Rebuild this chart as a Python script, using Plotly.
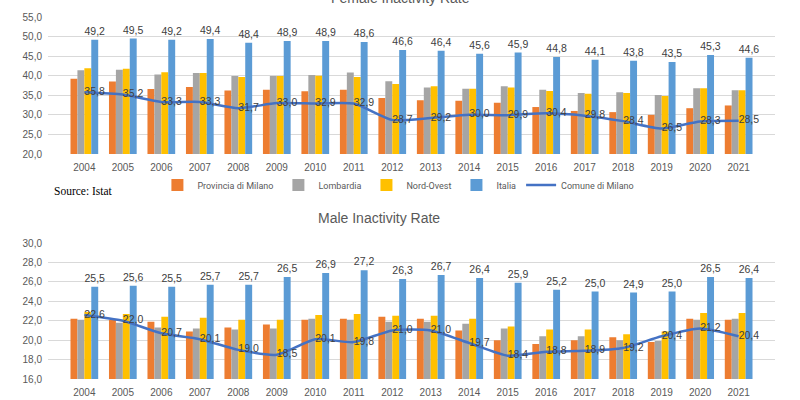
import plotly.graph_objects as go

years = [str(y) for y in range(2004, 2022)]

# Female inactivity rate
f_provincia = [39.2, 38.5, 36.6, 37.1, 36.2, 36.4, 36.0, 36.4, 34.3, 33.7, 33.6, 33.1, 32.0, 31.0, 30.7, 30.0, 31.7, 32.4]
f_lombardia = [41.4, 41.5, 40.3, 40.7, 39.9, 39.9, 40.2, 40.8, 38.6, 37.0, 36.7, 37.3, 36.4, 35.6, 35.8, 35.1, 36.8, 36.3]
f_nordovest = [41.9, 41.8, 40.9, 40.7, 39.7, 39.9, 40.0, 39.7, 37.9, 37.3, 36.7, 37.0, 36.1, 35.4, 35.6, 34.8, 36.8, 36.3]
f_italia = [49.2, 49.5, 49.2, 49.4, 48.4, 48.9, 48.9, 48.6, 46.6, 46.4, 45.6, 45.9, 44.8, 44.1, 43.8, 43.5, 45.3, 44.6]
f_comune = [35.8, 35.2, 33.3, 33.3, 31.7, 33.0, 32.9, 32.9, 28.7, 29.2, 30.0, 29.9, 30.4, 29.8, 28.4, 26.5, 28.3, 28.5]

# Male inactivity rate
m_provincia = [22.2, 22.1, 21.9, 20.9, 21.3, 21.6, 22.1, 22.2, 22.4, 22.2, 21.0, 20.0, 19.6, 20.0, 20.3, 19.8, 22.2, 22.1]
m_lombardia = [22.1, 21.8, 21.3, 21.2, 21.1, 21.2, 22.2, 22.1, 21.9, 21.9, 21.7, 21.2, 20.4, 20.4, 20.0, 19.9, 22.1, 22.2]
m_nordovest = [22.9, 22.7, 22.4, 22.3, 22.1, 22.1, 22.6, 22.7, 22.5, 22.5, 22.2, 21.4, 21.1, 21.1, 20.6, 20.9, 22.8, 22.8]
m_italia = [25.5, 25.6, 25.5, 25.7, 25.7, 26.5, 26.9, 27.2, 26.3, 26.7, 26.4, 25.9, 25.2, 25.0, 24.9, 25.0, 26.5, 26.4]
m_comune = [22.6, 22.0, 20.7, 20.1, 19.0, 18.5, 20.1, 19.8, 21.0, 21.0, 19.7, 18.4, 18.8, 18.9, 19.2, 20.4, 21.2, 20.4]

series_names = ["Provincia di Milano", "Lombardia", "Nord-Ovest", "Italia"]
colors = ["#ED7D31", "#A5A5A5", "#FFC000", "#5B9BD5"]
line_color = "#4472C4"
text_color = "#404040"
tick_font = dict(family="Liberation Sans, Arial, sans-serif", size=10, color="#595959")
label_font = dict(family="Liberation Sans, Arial, sans-serif", size=10.5, color=text_color)

fig = go.Figure()

def add_panel(bars, comune, xa, ya, show):
    for name, vals, col in zip(series_names, bars, colors):
        kw = {}
        if name == "Italia":
            kw = dict(text=vals, texttemplate="%{y:.1f}", textposition="outside",
                      textfont=label_font, constraintext="none", cliponaxis=False)
        fig.add_trace(go.Bar(x=years, y=vals, name=name, marker_color=col,
                             marker_line_width=0, xaxis=xa, yaxis=ya,
                             showlegend=show, legendgroup=name, **kw))
    fig.add_trace(go.Scatter(x=years, y=comune, name="Comune di Milano", mode="lines+text",
                             line=dict(color=line_color, width=2.5, shape="spline", smoothing=0.6),
                             text=comune, texttemplate="%{y:.1f}", textposition="middle right",
                             textfont=label_font, xaxis=xa, yaxis=ya, cliponaxis=False,
                             showlegend=show, legendgroup="Comune di Milano"))

add_panel([f_provincia, f_lombardia, f_nordovest, f_italia], f_comune, "x", "y", True)
add_panel([m_provincia, m_lombardia, m_nordovest, m_italia], m_comune, "x2", "y2", False)

axis_common = dict(showgrid=True, gridcolor="#D9D9D9", gridwidth=1, zeroline=False,
                   showline=False, tickfont=tick_font, ticks="outside", ticklen=3,
                   tickcolor="rgba(0,0,0,0)", tickformat=".1f", automargin=False)
xaxis_common = dict(domain=[0, 1], tickfont=tick_font, showgrid=False, ticks="outside",
                    ticklen=4, tickcolor="rgba(0,0,0,0)", showline=False, automargin=False)

fig.update_layout(
    width=800, height=400,
    margin=dict(l=48, r=25, t=0, b=0, autoexpand=False),
    paper_bgcolor="white", plot_bgcolor="white",
    separators=",.",
    barmode="group", bargap=0.28, bargroupgap=0,
    xaxis=dict(anchor="y", **xaxis_common),
    yaxis=dict(domain=[0.615, 0.9575], anchor="x", range=[20, 55], dtick=5, **axis_common),
    xaxis2=dict(anchor="y2", **xaxis_common),
    yaxis2=dict(domain=[0.0525, 0.3925], anchor="x2", range=[16, 30], dtick=2, **axis_common),
    legend=dict(orientation="h", x=0.482, xanchor="center", y=0.5375, yanchor="middle",
                font=dict(family="Roboto, Liberation Sans, sans-serif", size=9, color="#595959"),
                itemwidth=30, tracegroupgap=0, traceorder="normal", bgcolor="rgba(0,0,0,0)"),
    annotations=[
        dict(text="Female Inactivity Rate", xref="paper", yref="paper", x=0.485, y=1.006,
             xanchor="center", yanchor="middle", showarrow=False,
             font=dict(family="Liberation Sans, Arial, sans-serif", size=14, color="#595959")),
        dict(text="Male Inactivity Rate", xref="paper", yref="paper", x=0.455, y=0.455,
             xanchor="center", yanchor="middle", showarrow=False,
             font=dict(family="Liberation Sans, Arial, sans-serif", size=14, color="#595959")),
        dict(text="Source: Istat", xref="paper", yref="paper", x=0.006, y=0.522,
             xanchor="left", yanchor="middle", showarrow=False,
             font=dict(family="Liberation Serif, Times New Roman, serif", size=11.5, color="black")),
    ],
)

fig.write_html("out.html", config={"displayModeBar": False},
               post_script="document.body.style.margin='0px';")
